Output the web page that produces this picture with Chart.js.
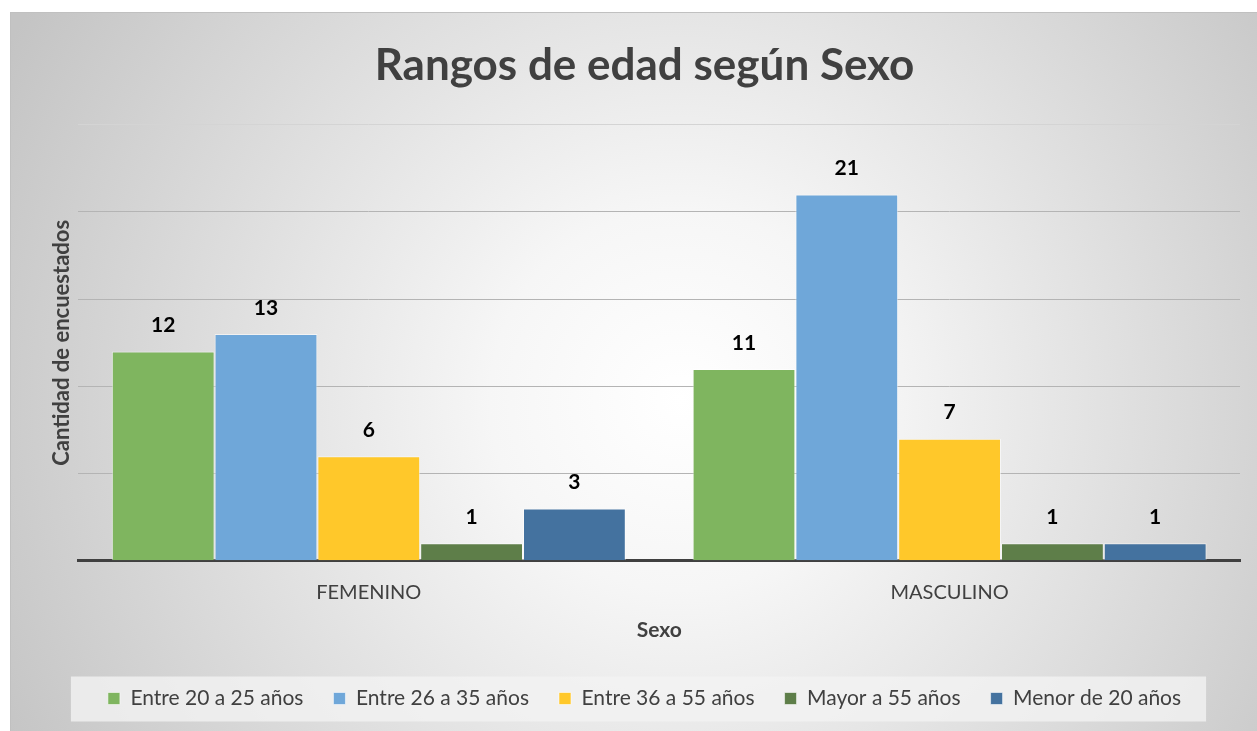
<!DOCTYPE html>
<html><head><meta charset="utf-8">
<script src="https://cdn.jsdelivr.net/npm/chart.js@4"></script>
<style>html,body{margin:0;padding:0;background:#fff;}#wrap{width:1257px;height:731px;}</style>
</head><body><div id="wrap"><canvas id="c" width="1257" height="731"></canvas></div>
<script>
const categories = ["FEMENINO", "MASCULINO"];
const seriesNames = ["Entre 20 a 25 años", "Entre 26 a 35 años", "Entre 36 a 55 años", "Mayor a 55 años", "Menor de 20 años"];
const entre20a25 = [12, 11];
const entre26a35 = [13, 21];
const entre36a55 = [6, 7];
const mayor55 = [1, 1];
const menor20 = [3, 1];
const seriesColors = ["#7fb55f", "#6fa7d9", "#ffc82a", "#5e7e49", "#44729f"];
const seriesValues = [entre20a25, entre26a35, entre36a55, mayor55, menor20];

const FONT = "Lato, 'Open Sans', sans-serif";
const TXT = "#404040";

const bgPlugin = {
  id: 'bg',
  beforeDraw(chart) {
    const ctx = chart.ctx;
    ctx.save();
    ctx.fillStyle = '#ffffff';
    ctx.fillRect(0, 0, chart.width, chart.height);
    const x0 = 10, y0 = 12, x1 = chart.width, y1 = chart.height;
    const g = ctx.createRadialGradient(680, 400, 0, 680, 400, 760);
    g.addColorStop(0, '#ffffff');
    g.addColorStop(0.25, '#f6f6f6');
    g.addColorStop(1, '#c4c4c4');
    ctx.fillStyle = g;
    ctx.fillRect(x0, y0, x1 - x0, y1 - y0);
    ctx.strokeStyle = '#c0c0c0';
    ctx.lineWidth = 1;
    ctx.strokeRect(x0 + 0.5, y0 + 0.5, x1 - x0, y1 - y0);
    // legend background
    const lg = chart.legend;
    if (lg && lg.legendHitBoxes && lg.legendHitBoxes.length) {
      const hb = lg.legendHitBoxes;
      const left = hb[0].left - 37, right = hb[hb.length - 1].left + hb[hb.length - 1].width + 25;
      const cy = hb[0].top + hb[0].height / 2;
      ctx.fillStyle = 'rgba(242,242,242,0.8)';
      ctx.fillRect(left, cy - 22, right - left, 45);
    }
    ctx.restore();
  }
};

const labelPlugin = {
  id: 'vlabels',
  afterDatasetsDraw(chart) {
    const ctx = chart.ctx;
    ctx.save();
    ctx.font = "bold 21px " + FONT;
    ctx.fillStyle = '#000';
    ctx.textAlign = 'center';
    ctx.textBaseline = 'middle';
    chart.data.datasets.forEach((ds, i) => {
      const meta = chart.getDatasetMeta(i);
      meta.data.forEach((el, j) => {
        ctx.fillText(String(ds.data[j]), el.x, el.y - 26);
      });
    });
    ctx.restore();
  }
};

new Chart(document.getElementById('c'), {
  type: 'bar',
  data: {
    labels: categories,
    datasets: seriesNames.map((n, i) => ({
      label: n,
      data: seriesValues[i],
      backgroundColor: seriesColors[i],
      borderColor: 'rgba(255,255,255,0.55)',
      borderWidth: 1,
      categoryPercentage: 0.885,
      barPercentage: 1.0
    }))
  },
  options: {
    responsive: false,
    animation: false,
    devicePixelRatio: 1,
    layout: { padding: { top: 12, left: 49, right: 17, bottom: 12 } },
    plugins: {
      title: {
        display: true,
        text: 'Rangos de edad según Sexo',
        color: TXT,
        font: { family: FONT, size: 44, weight: 'bold' },
        padding: { top: 27, bottom: 33 }
      },
      legend: {
        position: 'bottom',
        labels: {
          color: TXT,
          font: { family: FONT, size: 21 },
          boxWidth: 12,
          boxHeight: 12,
          padding: 30
        }
      },
      tooltip: { enabled: false }
    },
    scales: {
      x: {
        grid: { display: false },
        border: { display: true, color: '#404040', width: 3 },
        ticks: { color: TXT, font: { family: FONT, size: 20 }, padding: 12 },
        title: { display: true, text: 'Sexo', color: TXT, font: { family: FONT, size: 21, weight: 'bold' }, padding: { top: 1, bottom: 15 } }
      },
      y: {
        min: 0, max: 25,
        ticks: { display: false, stepSize: 5 },
        grid: { color: (c) => (c.tick && c.tick.value === 25 ? '#d4d4d4' : '#b4b4b4'), lineWidth: 1, drawTicks: false },
        border: { display: false },
        title: { display: true, text: 'Cantidad de encuestados', color: TXT, font: { family: FONT, size: 22, weight: 'bold' }, padding: { top: 0, bottom: 3 } }
      }
    }
  },
  plugins: [bgPlugin, labelPlugin]
});
</script></body></html>
